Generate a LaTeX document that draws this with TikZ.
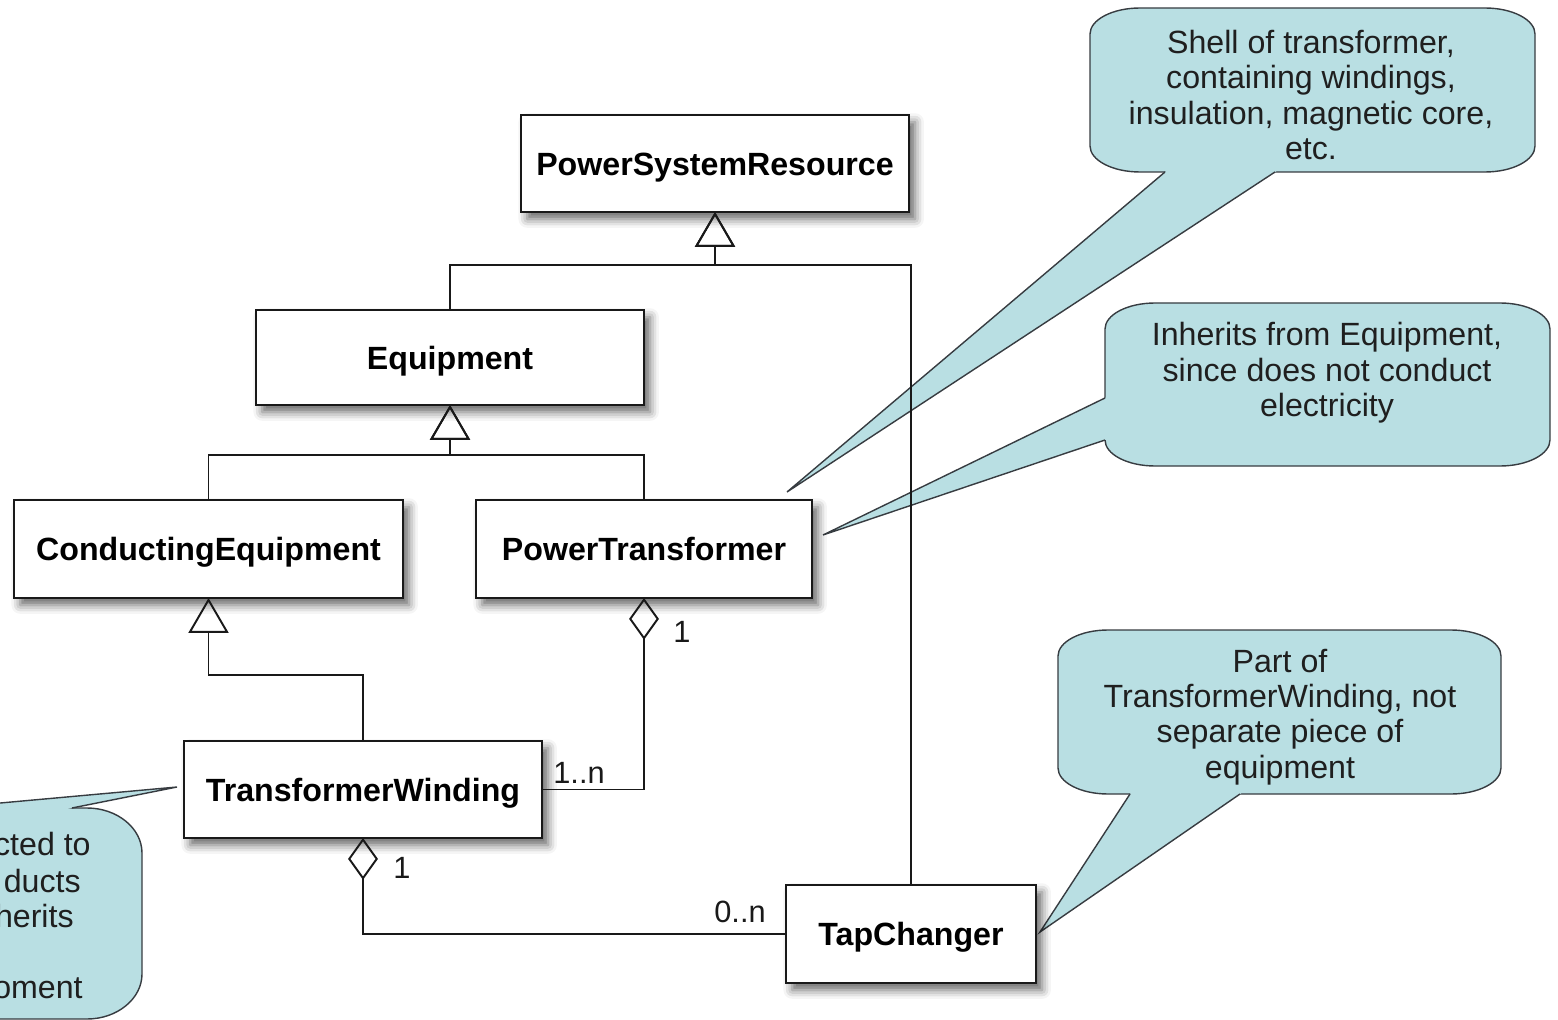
\documentclass[tikz,border=0pt]{standalone}
\usepackage{fontspec}
\setmainfont{Liberation Sans}
\usetikzlibrary{arrows.meta,calc,shadows.blur}

\definecolor{notefill}{RGB}{185,223,227}
\definecolor{noteline}{RGB}{55,60,65}
\definecolor{ink}{RGB}{25,25,25}

\tikzset{
  cls/.style={draw=ink, line width=1.2pt, fill=white, inner sep=0pt, outer sep=0pt,
    text height=13.1pt, text depth=0pt,
    font=\fontsize{18.3}{20}\selectfont\bfseries,
    blur shadow={shadow xshift=3.5pt, shadow yshift=-4pt, shadow blur radius=5pt, shadow opacity=60}},
  gen/.style={draw=ink, line width=1.1pt, -{Triangle[open,length=19.8pt,width=22.7pt]}},
  agg/.style={draw=ink, line width=1.1pt, {Diamond[open,length=23.8pt,width=17pt]}-},
  mult/.style={font=\fontsize{17.5}{20}\selectfont, text=ink, inner sep=0pt},
  bubble/.style={fill=notefill, draw=noteline, line width=0.8pt},
  bubbleedge/.style={draw=noteline, line width=0.8pt},
  notetext/.style={align=center, font=\fontsize{18.3}{20.1}\selectfont, text=black!88, inner sep=0pt},
}

% rounded note body: left, top, right, bottom, corner x radius, corner y radius
\newcommand{\bubblebody}[6]{%
  \filldraw[bubble] (#1+#5,#2) -- (#3-#5,#2)
    .. controls (#3-0.45*#5,#2) and (#3,#2+0.45*#6) .. (#3,#2+#6) -- (#3,#4-#6)
    .. controls (#3,#4-0.45*#6) and (#3-0.45*#5,#4) .. (#3-#5,#4) -- (#1+#5,#4)
    .. controls (#1+0.45*#5,#4) and (#1,#4-0.45*#6) .. (#1,#4-#6) -- (#1,#2+#6)
    .. controls (#1,#2+0.45*#6) and (#1+0.45*#5,#2) .. (#1+#5,#2) -- cycle;}
% pointer of a note: tip, two base points on the body outline
\newcommand{\bubbletail}[3]{%
  \fill[notefill] (#1) -- ($(#1)!1.06!(#2)$) -- ($(#1)!1.06!(#3)$) -- cycle;
  \draw[bubbleedge] (#2) -- (#1) -- (#3);}

\begin{document}
\begin{tikzpicture}[x=0.02cm,y=-0.02cm]
\useasboundingbox (0,0) rectangle (1558,1020);
\clip (0,0) rectangle (1558,1020);

% ---- notes ----
\coordinate (tipshell) at (787,492);
\coordinate (tipinh) at (823,535);
\coordinate (tippart) at (1040,932);
\coordinate (tipcond) at (177,787);

\bubblebody{1090}{8}{1535}{172}{50}{26}
\bubbletail{tipshell}{1165,172}{1275,172}
\node[notetext] (noteshell) at (1311,95)
  {Shell of transformer,\\containing windings,\\insulation, magnetic core,\\etc.};

\bubblebody{1105}{303}{1550}{466}{50}{26}
\bubbletail{tipinh}{1105,398}{1105,440}
\node[notetext] (noteinh) at (1327,373)
  {Inherits from Equipment,\\since does not conduct\\electricity};

\bubblebody{1058}{630}{1501}{794}{50}{26}
\bubbletail{tippart}{1130,794}{1240,794}
\node[notetext] (notepart) at (1280,717)
  {Part of\\TransformerWinding, not\\separate piece of\\equipment};

\bubblebody{-300}{808}{142}{1019}{55}{45}
\bubbletail{tipcond}{-55,808}{72,808}
\node[notetext, anchor=base east] (cond1) at (91,855) {cted to};
\node[notetext, anchor=base east] (cond2) at (81,892) {ducts};
\node[notetext, anchor=base east] (cond3) at (74,927) {herits};
\node[notetext, anchor=base east] (cond5) at (83,998) {oment};

% ---- classes ----
\node[cls, minimum width=7.76cm, minimum height=1.94cm] (psr) at (715,163.5) {PowerSystemResource};
\node[cls, minimum width=7.76cm, minimum height=1.90cm] (eq) at (450,357.5) {Equipment};
\node[cls, minimum width=7.78cm, minimum height=1.96cm] (ce) at (208.5,549) {ConductingEquipment};
\node[cls, minimum width=6.72cm, minimum height=1.96cm] (pt) at (644,549) {PowerTransformer};
\node[cls, minimum width=7.16cm, minimum height=1.94cm] (tw) at (363,789.5) {TransformerWinding};
\node[cls, minimum width=5.00cm, minimum height=1.96cm] (tc) at (911,934) {TapChanger};

% ---- generalisations ----
\coordinate (jpsr) at (715,265);
\coordinate (jeq) at (450,455);
\coordinate (jce) at (208.5,675);
\draw[gen] (eq.north) |- (jpsr) -- (psr.south);
\draw[gen] (tc.north) |- (jpsr) -- (psr.south);
\draw[gen] (ce.north) |- (jeq) -- (eq.south);
\draw[gen] (pt.north) |- (jeq) -- (eq.south);
\draw[gen] (tw.north) |- (jce) -- (ce.south);

% ---- aggregations ----
\draw[agg] (pt.south) |- (tw.east);
\draw[agg] (tw.south) |- (tc.west);

\node[mult] (m1) at (682,632) {1};
\node[mult] (m2) at (579,773) {1..n};
\node[mult] (m3) at (402,868) {1};
\node[mult] (m4) at (740,912) {0..n};

\end{tikzpicture}
\end{document}
